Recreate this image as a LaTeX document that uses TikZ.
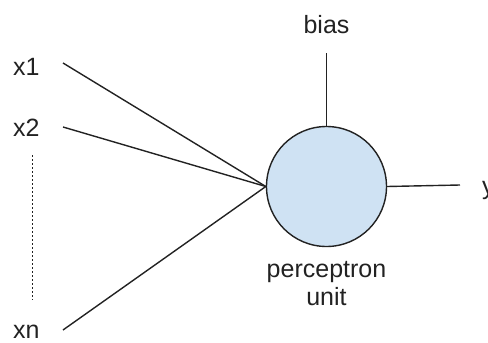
\documentclass[tikz,border=0pt]{standalone}
\usepackage{fontspec}
\setmainfont{Liberation Sans}
\definecolor{cellblue}{HTML}{CFE2F3}
\definecolor{ink}{HTML}{222222}
\begin{document}
\begin{tikzpicture}[x=1pt,y=-1pt,
  lbl/.style={inner sep=0pt,font=\fontsize{25}{28}\selectfont,text=ink},
  wire/.style={draw=ink,line width=1.4pt},
  unitnode/.style={circle,draw=ink,line width=1.4pt,fill=cellblue,minimum size=120pt,inner sep=0pt}]
\useasboundingbox (0,0) rectangle (488,343);
\node[unitnode] (u) at (326.5,186.5) {};
\node[lbl,anchor=base west] (x1) at (13,75) {x1};
\node[lbl,anchor=base west] (x2) at (13,136) {x2};
\node[lbl,anchor=base west] (xn) at (13,338) {xn};
\coordinate (s1) at (63,63);
\coordinate (s2) at (63,127);
\coordinate (sn) at (63,330);
\coordinate (d1) at (32,155);
\coordinate (d2) at (32,300);
\draw[wire] (s1) -- (u.west);
\draw[wire] (s2) -- (u.west);
\draw[wire] (sn) -- (u.west);
\draw[ink,line width=0.9pt,dash pattern=on 2pt off 2pt] (d1) -- (d2);
\node[lbl,anchor=base] (bias) at (326.5,33) {bias};
\coordinate (b0) at (326.5,53);
\draw[wire] (b0) -- (u.north);
\coordinate (o1) at (460,185);
\draw[wire] (u.east) -- (o1);
\node[lbl,anchor=base west] (y) at (482,194) {y};
\node[lbl,align=center,anchor=north] (pu) at (326.5,261) {perceptron\\unit};
\end{tikzpicture}
\end{document}
